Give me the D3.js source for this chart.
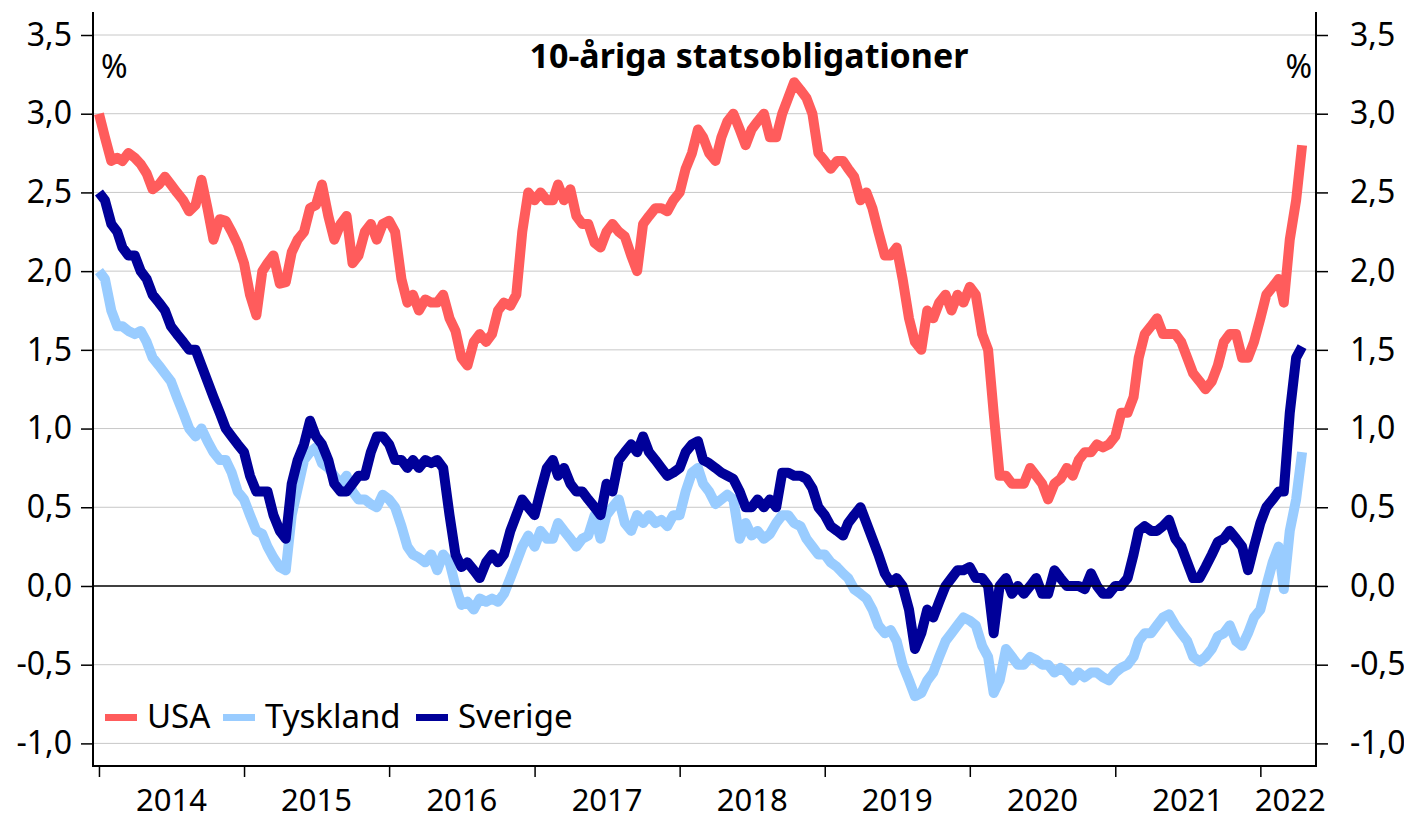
<!DOCTYPE html>
<html>
<head>
<meta charset="utf-8">
<script src="https://cdn.jsdelivr.net/npm/d3@7"></script>
<style>
  html, body { margin: 0; padding: 0; background: #fff; }
  svg { display: block; }
  text { font-family: "Noto Sans", "DejaVu Sans", sans-serif; fill: #000; }
</style>
</head>
<body>
<svg id="chart" width="1404" height="820"></svg>
<script>
// Half-monthly observations (1st and 16th of each month), Jan 2014 – Apr 2022
const startYear = 2014;
const seriesNames = ["USA", "Tyskland", "Sverige"];
const seriesColors = ["#ff5c5c", "#99ccff", "#000099"];

const usa = [
  3.0, 2.85, 2.7, 2.72, 2.7, 2.75, 2.72, 2.68, 2.62, 2.52,
  2.55, 2.6, 2.55, 2.5, 2.45, 2.38, 2.42, 2.58, 2.4, 2.2,
  2.33, 2.32, 2.25, 2.17, 2.05, 1.85, 1.72, 2.0, 2.05, 2.1,
  1.92, 1.93, 2.12, 2.2, 2.25, 2.4, 2.42, 2.55, 2.35, 2.2,
  2.3, 2.35, 2.05, 2.1, 2.25, 2.3, 2.2, 2.3, 2.32, 2.25,
  1.95, 1.8, 1.85, 1.75, 1.82, 1.8, 1.8, 1.85, 1.7, 1.62,
  1.45, 1.4, 1.55, 1.6, 1.55, 1.6, 1.75, 1.8, 1.78, 1.85,
  2.25, 2.5, 2.45, 2.5, 2.45, 2.45, 2.55, 2.45, 2.52, 2.35,
  2.3, 2.3, 2.18, 2.15, 2.25, 2.3, 2.25, 2.22, 2.1, 2.0,
  2.3, 2.35, 2.4, 2.4, 2.38, 2.45, 2.5, 2.65, 2.75, 2.9,
  2.85, 2.75, 2.7, 2.85, 2.95, 3.0, 2.9, 2.8, 2.9, 2.95,
  3.0, 2.85, 2.85, 3.0, 3.1, 3.2, 3.15, 3.1, 3.0, 2.75,
  2.7, 2.65, 2.7, 2.7, 2.65, 2.6, 2.45, 2.5, 2.4, 2.25,
  2.1, 2.1, 2.15, 1.95, 1.7, 1.55, 1.5, 1.75, 1.7, 1.8,
  1.85, 1.75, 1.85, 1.8, 1.9, 1.85, 1.6, 1.5, 1.1, 0.7,
  0.7, 0.65, 0.65, 0.65, 0.75, 0.7, 0.65, 0.55, 0.65, 0.68,
  0.75, 0.7, 0.8, 0.85, 0.85, 0.9, 0.88, 0.9, 0.95, 1.1,
  1.1, 1.2, 1.45, 1.6, 1.65, 1.7, 1.6, 1.6, 1.6, 1.55,
  1.45, 1.35, 1.3, 1.25, 1.3, 1.4, 1.55, 1.6, 1.6, 1.45,
  1.45, 1.55, 1.7, 1.85, 1.9, 1.95, 1.8, 2.2, 2.45, 2.8
];

const tyskland = [
  2.0, 1.95, 1.75, 1.65, 1.65, 1.62, 1.6, 1.62, 1.55, 1.45,
  1.4, 1.35, 1.3, 1.2, 1.1, 1.0, 0.95, 1.0, 0.92, 0.85,
  0.8, 0.8, 0.72, 0.6, 0.55, 0.45, 0.35, 0.33, 0.25, 0.18,
  0.12, 0.1, 0.45, 0.62, 0.8, 0.85, 0.88, 0.78, 0.75, 0.7,
  0.65, 0.7, 0.6, 0.55, 0.55, 0.52, 0.5, 0.58, 0.55, 0.5,
  0.38, 0.25, 0.2, 0.18, 0.15, 0.2, 0.1, 0.2, 0.15, 0.0,
  -0.12, -0.1, -0.15, -0.08, -0.1, -0.08, -0.1, -0.05, 0.05, 0.15,
  0.25, 0.32, 0.25, 0.35, 0.3, 0.3, 0.4, 0.35, 0.3, 0.25,
  0.3, 0.32, 0.45, 0.3, 0.45, 0.5, 0.55, 0.4, 0.35, 0.45,
  0.4, 0.45, 0.4, 0.42, 0.38, 0.45, 0.45, 0.6, 0.72, 0.75,
  0.65, 0.6, 0.52, 0.55, 0.58, 0.55, 0.3, 0.4, 0.32, 0.35,
  0.3, 0.33, 0.4, 0.45, 0.45, 0.4, 0.38, 0.3, 0.25, 0.2,
  0.2, 0.15, 0.12, 0.08, 0.05, -0.02, -0.05, -0.08, -0.15, -0.25,
  -0.3, -0.28, -0.35, -0.5, -0.6, -0.7, -0.68, -0.6, -0.55, -0.45,
  -0.35, -0.3, -0.25, -0.2, -0.22, -0.25, -0.38, -0.45, -0.68, -0.6,
  -0.4, -0.45, -0.5, -0.5, -0.45, -0.47, -0.5, -0.5, -0.55, -0.52,
  -0.55, -0.6, -0.55, -0.58, -0.55, -0.55, -0.58, -0.6, -0.55, -0.52,
  -0.5, -0.45, -0.35, -0.3, -0.3, -0.25, -0.2, -0.18, -0.25, -0.3,
  -0.35, -0.45, -0.48, -0.45, -0.4, -0.32, -0.3, -0.25, -0.35, -0.38,
  -0.3, -0.2, -0.15, 0.0, 0.15, 0.25, -0.02, 0.35, 0.55, 0.85
];

const sverige = [
  2.5, 2.45, 2.3, 2.25, 2.15, 2.1, 2.1, 2.0, 1.95, 1.85,
  1.8, 1.75, 1.65, 1.6, 1.55, 1.5, 1.5, 1.4, 1.3, 1.2,
  1.1, 1.0, 0.95, 0.9, 0.85, 0.7, 0.6, 0.6, 0.6, 0.45,
  0.35, 0.3, 0.65, 0.8, 0.9, 1.05, 0.95, 0.9, 0.8, 0.65,
  0.6, 0.6, 0.65, 0.7, 0.7, 0.85, 0.95, 0.95, 0.9, 0.8,
  0.8, 0.75, 0.8, 0.75, 0.8, 0.78, 0.8, 0.75, 0.45, 0.2,
  0.12, 0.15, 0.1, 0.05, 0.15, 0.2, 0.15, 0.2, 0.35, 0.45,
  0.55, 0.5, 0.45, 0.6, 0.75, 0.8, 0.7, 0.75, 0.65, 0.6,
  0.6, 0.55, 0.5, 0.45, 0.65, 0.6, 0.8, 0.85, 0.9, 0.85,
  0.95, 0.85, 0.8, 0.75, 0.7, 0.72, 0.75, 0.85, 0.9, 0.92,
  0.8, 0.78, 0.75, 0.72, 0.7, 0.68, 0.6, 0.5, 0.5, 0.55,
  0.5, 0.55, 0.5, 0.72, 0.72, 0.7, 0.7, 0.68, 0.62, 0.5,
  0.45, 0.38, 0.35, 0.32, 0.4, 0.45, 0.5, 0.4, 0.3, 0.2,
  0.08, 0.02, 0.05, 0.0, -0.15, -0.4, -0.3, -0.15, -0.2, -0.1,
  0.0, 0.05, 0.1, 0.1, 0.12, 0.05, 0.05, 0.0, -0.3, 0.0,
  0.05, -0.05, 0.0, -0.05, 0.0, 0.05, -0.05, -0.05, 0.1, 0.05,
  0.0, 0.0, 0.0, -0.02, 0.08, 0.0, -0.05, -0.05, 0.0, 0.0,
  0.05, 0.2, 0.35, 0.38, 0.35, 0.35, 0.38, 0.42, 0.3, 0.25,
  0.15, 0.05, 0.05, 0.12, 0.2, 0.28, 0.3, 0.35, 0.3, 0.25,
  0.1, 0.25, 0.4, 0.5, 0.55, 0.6, 0.6, 1.1, 1.45, 1.52
];

const yTicks = [-1.0, -0.5, 0.0, 0.5, 1.0, 1.5, 2.0, 2.5, 3.0, 3.5];
const yearLabels = ["2014", "2015", "2016", "2017", "2018", "2019", "2020", "2021", "2022"];
const titleText = "10-åriga statsobligationer";
const unitText = "%";

(function draw() {
  const svg = d3.select("#chart");
  const pL = 93, pR = 1316, pT = 12, pB = 766;

  const dates = usa.map((_, i) => new Date(Date.UTC(startYear, Math.floor(i / 2), i % 2 ? 16 : 1)));

  const x = d3.scaleUtc()
    .domain([new Date(Date.UTC(2013, 11, 17)), new Date(Date.UTC(2022, 4, 21))])
    .range([pL, pR]);
  const y = d3.scaleLinear().domain([-1.0, 3.5]).range([743.4, 35]);

  const fmt = v => d3.format(".1f")(v).replace(".", ",").replace("\u2212", "-");

  // gridlines
  svg.append("g").selectAll("line").data(yTicks.filter(d => d !== 0)).join("line")
    .attr("x1", pL).attr("x2", pR)
    .attr("y1", d => y(d)).attr("y2", d => y(d))
    .attr("stroke", "#c8c8c8").attr("stroke-width", 1);

  // lines
  const line = d3.line().x((d, i) => x(dates[i])).y(d => y(d)).curve(d3.curveLinear);
  const seriesData = [usa, tyskland, sverige];
  svg.append("g").selectAll("path").data(seriesData).join("path")
    .attr("d", d => line(d))
    .attr("fill", "none")
    .attr("stroke", (d, i) => seriesColors[i])
    .attr("stroke-width", 10)
    .attr("stroke-linejoin", "round")
    .attr("stroke-linecap", "butt");

  // zero line
  svg.append("line")
    .attr("x1", pL).attr("x2", pR)
    .attr("y1", y(0)).attr("y2", y(0))
    .attr("stroke", "#000").attr("stroke-width", 1.6);

  // left axis
  const yLeft = d3.axisLeft(y).tickValues(yTicks).tickSize(12).tickPadding(9).tickFormat(fmt);
  const gl = svg.append("g").attr("transform", `translate(${pL},0)`).call(yLeft);
  gl.select(".domain").remove();
  gl.selectAll(".tick line").attr("stroke", "#000").attr("stroke-width", 1.5);
  gl.selectAll(".tick text").attr("font-size", 32).attr("font-family", "Noto Sans").attr("fill", "#000");

  // right axis
  const yRight = d3.axisRight(y).tickValues(yTicks).tickSize(12).tickPadding(22).tickFormat(fmt);
  const gr = svg.append("g").attr("transform", `translate(${pR},0)`).call(yRight);
  gr.select(".domain").remove();
  gr.selectAll(".tick line").attr("stroke", "#000").attr("stroke-width", 1.5);
  gr.selectAll(".tick text").attr("font-size", 32).attr("font-family", "Noto Sans").attr("fill", "#000");

  // axis lines
  svg.append("line").attr("x1", pL).attr("x2", pL).attr("y1", pT).attr("y2", pB)
    .attr("stroke", "#000").attr("stroke-width", 2);
  svg.append("line").attr("x1", pR).attr("x2", pR).attr("y1", pT).attr("y2", pB)
    .attr("stroke", "#000").attr("stroke-width", 2);
  svg.append("line").attr("x1", pL - 1).attr("x2", pR + 1).attr("y1", pB).attr("y2", pB)
    .attr("stroke", "#000").attr("stroke-width", 2);

  // x ticks at year starts
  const yearStarts = yearLabels.map(s => new Date(Date.UTC(+s, 0, 1)));
  const xAxis = d3.axisBottom(x).tickValues(yearStarts).tickSize(11).tickFormat("");
  const gx = svg.append("g").attr("transform", `translate(0,${pB})`).call(xAxis);
  gx.select(".domain").remove();
  gx.selectAll(".tick line").attr("stroke", "#000").attr("stroke-width", 1.5);

  // year labels centred between ticks
  const xEnd = x.domain()[1];
  svg.append("g").selectAll("text").data(yearLabels).join("text")
    .attr("x", (d, i) => {
      const a = yearStarts[i];
      const b = i < yearStarts.length - 1 ? yearStarts[i + 1] : xEnd;
      return (x(a) + x(b)) / 2 + (i === yearStarts.length - 1 ? 2 : 0);
    })
    .attr("y", 811)
    .attr("text-anchor", "middle")
    .attr("font-size", 31)
    .text(d => d);

  // title
  svg.append("text")
    .attr("x", 749).attr("y", 68)
    .attr("text-anchor", "middle")
    .attr("font-size", 34).attr("font-weight", "bold")
    .text(titleText);

  // unit labels
  svg.append("text").attr("x", 101).attr("y", 78).attr("font-size", 32).text(unitText);
  svg.append("text").attr("x", 1312).attr("y", 78).attr("text-anchor", "end").attr("font-size", 32).text(unitText);

  // legend
  const legend = svg.append("g");
  const legendX = [105, 223, 416];
  seriesNames.forEach((name, i) => {
    legend.append("line")
      .attr("x1", legendX[i]).attr("x2", legendX[i] + 32)
      .attr("y1", 717.5).attr("y2", 717.5)
      .attr("stroke", seriesColors[i]).attr("stroke-width", 7);
    legend.append("text")
      .attr("x", legendX[i] + 42).attr("y", 728)
      .attr("font-size", 33)
      .text(name);
  });
})();
</script>
</body>
</html>
